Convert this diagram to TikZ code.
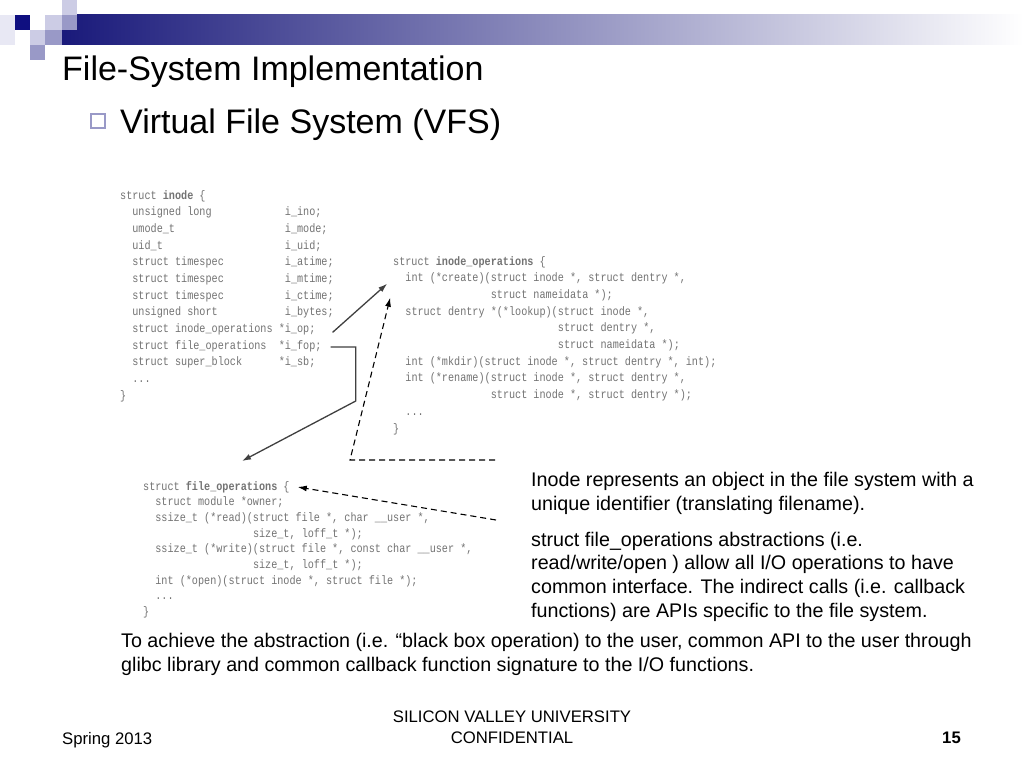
\documentclass[tikz,border=0pt]{standalone}
\usepackage{fontspec}
\setmainfont{Liberation Sans}
\newfontfamily\codefont[FakeStretch=0.833]{Liberation Mono}
\usetikzlibrary{arrows.meta}
\definecolor{barblue}{rgb}{0.1,0.1,0.48}
\definecolor{sqdark}{rgb}{0.06,0.06,0.5}
\definecolor{sqmid}{rgb}{0.6,0.6,0.78}
\definecolor{sqlight}{rgb}{0.8,0.8,0.9}
\definecolor{codegray}{gray}{0.45}
\definecolor{linegray}{gray}{0.25}

\begin{document}
\begin{tikzpicture}
  [x=1pt,y=-1pt,
   code/.style={anchor=base west,inner sep=0,text height=8pt,text depth=2pt,
     font=\codefont\fontsize{12.2}{14}\selectfont,text=codegray},
   note/.style={anchor=base west,inner sep=0,align=left,
     font=\fontsize{19.7}{23.6}\selectfont},
   heading/.style={anchor=base west,inner sep=0,font=\fontsize{34}{40}\selectfont},
   foot/.style={inner sep=0,font=\fontsize{16.7}{21}\selectfont},
   ptr/.style={draw=linegray,line width=1.3pt,-{Latex[length=9pt,width=6pt]}},
   dptr/.style={draw=black,line width=1.1pt,dash pattern=on 6pt off 4pt,
     -{Latex[length=9pt,width=6pt]}}]
  \useasboundingbox[fill=white] (0,0) rectangle (1024,768);

  % header bar
  \shade[left color=barblue,middle color=barblue!40,right color=white] (62,15) rectangle (1024,45);
  \fill[sqlight!45] (0,15) rectangle (15,45);
  \fill[sqlight] (62,0) rectangle (77,15);
  \fill[sqdark] (15,15) rectangle (30,30);
  \fill[sqlight] (45,15) rectangle (62,30);
  \fill[sqmid] (62,15) rectangle (77,30);
  \fill[sqlight] (30,30) rectangle (45,45);
  \fill[sqmid] (45,30) rectangle (62,45);
  \fill[sqmid] (30,45) rectangle (45,60);

  \node[heading] (title) at (62,81) {File-System Implementation};
  \draw[sqmid,line width=1.2pt] (91,114) rectangle (105,128);
  \node[heading] (vfs) at (120,133) {Virtual File System (VFS)};

  % struct inode
  \foreach \r/\c/\t in {0/0/{struct \textbf{inode} \{},1/2/{unsigned long},2/2/{umode\_t},
      3/2/{uid\_t},4/2/{struct timespec},5/2/{struct timespec},6/2/{struct timespec},
      7/2/{unsigned short},8/2/{struct inode\_operations},9/2/{struct file\_operations},
      10/2/{struct super\_block},11/2/{...},12/0/{\}}}
    \node[code] (ino\r) at ({120+\c*6.1},{199+\r*16.67}) {\t};
  \foreach \r/\c/\t in {1/27/{i\_ino;},2/27/{i\_mode;},3/27/{i\_uid;},4/27/{i\_atime;},
      5/27/{i\_mtime;},6/27/{i\_ctime;},7/27/{i\_bytes;},8/26/{*i\_op;},
      9/26/{*i\_fop;},10/26/{*i\_sb;}}
    \node[code] (inof\r) at ({120+\c*6.1},{199+\r*16.67}) {\t};

  % struct inode_operations
  \foreach \r/\c/\t in {0/0/{struct \textbf{inode\_operations} \{},
      1/2/{int (*create)(struct inode *, struct dentry *,},2/16/{struct nameidata *);},
      3/2/{struct dentry *(*lookup)(struct inode *,},4/27/{struct dentry *,},
      5/27/{struct nameidata *);},6/2/{int (*mkdir)(struct inode *, struct dentry *, int);},
      7/2/{int (*rename)(struct inode *, struct dentry *,},
      8/16/{struct inode *, struct dentry *);},9/2/{...},10/0/{\}}}
    \node[code] (iop\r) at ({393+\c*6.1},{265+\r*16.7}) {\t};

  % struct file_operations
  \foreach \r/\c/\t in {0/0/{struct \textbf{file\_operations} \{},1/2/{struct module *owner;},
      2/2/{ssize\_t (*read)(struct file *, char \_\_user *,},3/18/{size\_t, loff\_t *);},
      4/2/{ssize\_t (*write)(struct file *, const char \_\_user *,},5/18/{size\_t, loff\_t *);},
      6/2/{int (*open)(struct inode *, struct file *);},7/2/{...},8/0/{\}}}
    \node[code] (fop\r) at ({143+\c*6.1},{490+\r*15.7}) {\t};

  % notes (base = last line)
  \node[note] (inodenote) at (531,510)
    {Inode represents an object in the file system with a\\unique identifier (translating filename).};
  \node[note] (fopsnote) at (531,617)
    {struct file\_operations abstractions (i.e.\\read/write/open ) allow all I/O operations to have\\
     common interface. The indirect calls (i.e. callback\\functions) are APIs specific to the file system.};
  \node[note] (abstractnote) at (121,671)
    {To achieve the abstraction (i.e. “black box operation) to the user, common API to the user through\\
     glibc library and common callback function signature to the I/O functions.};

  \coordinate (inodeptr) at (495,460);
  \coordinate (fopsptr) at (496,520);

  \draw[ptr] ([xshift=17pt]inof8.base east) -- ([xshift=-18pt,yshift=-2pt]iop1.base west);
  \draw[ptr] ([xshift=9pt,yshift=2pt]inof9.base east) -- ++(25,0) -- ++(0,54)
    -- ([xshift=99pt,yshift=29pt]fop0.base west);
  \draw[dptr] (inodeptr) -- ++(-145,0) -- ([xshift=-15pt,yshift=-16pt]iop1.base west);
  \draw[dptr] (fopsptr) -- ([xshift=8pt,yshift=3pt]fop0.base east);

  % footer
  \node[foot,anchor=base west] (term) at (62,744) {Spring 2013};
  \node[foot,anchor=base,align=center] (conf) at (512,743) {SILICON VALLEY UNIVERSITY\\CONFIDENTIAL};
  \node[foot,anchor=base east,font=\fontsize{16.7}{21}\selectfont\bfseries] (page) at (961,743) {15};
\end{tikzpicture}
\end{document}
